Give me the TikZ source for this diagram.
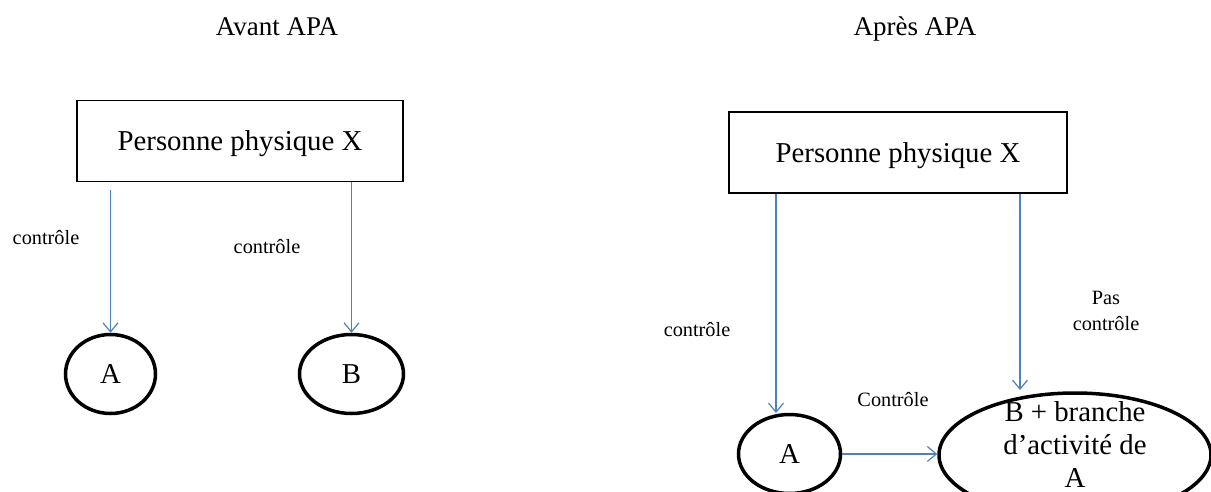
\documentclass[tikz,border=0pt]{standalone}
\usepackage{fontspec}
\setmainfont{Liberation Serif}
\usetikzlibrary{arrows.meta,shapes.geometric}
\definecolor{linkblue}{RGB}{79,129,189}

\begin{document}
\begin{tikzpicture}[x=1pt, y=-1pt, >={Straight Barb[length=9pt,width=15pt]},
    person/.style={draw, line width=1.5pt, inner sep=0pt, minimum height=81pt,
        text height=20pt, text depth=0pt, font=\fontsize{28.8}{33}\selectfont},
    firm/.style={ellipse, draw, line width=3.5pt, inner sep=0pt, minimum height=79pt,
        font=\fontsize{28.8}{33}\selectfont},
    ctrl/.style={->, draw=linkblue, line width=1.2pt},
    lbl/.style={font=\fontsize{20.3}{26}\selectfont, align=center},
    heading/.style={anchor=base, font=\fontsize{27}{30}\selectfont}]
    \useasboundingbox (0, 0) rectangle (1211, 492);
    \clip (0, 0) rectangle (1211, 492);
    \path
    (277, 36) node[heading] (before) {Avant APA}
    (915, 36) node[heading] (after) {Apr\`es APA};
    \path
    (240, 141) node[person, minimum width=326pt] (x1) {Personne physique X}
    (110.5, 374) node[firm, minimum width=90pt] (a1) {A}
    (351.5, 374) node[firm, minimum width=104pt] (b1) {B};
    \draw[ctrl, shorten <=8pt] (a1 |- x1.south) -- (a1.north);
    \draw[ctrl] (b1 |- x1.south) -- (b1.north);
    \path
    (46, 238) node[lbl] (c1) {contr\^ole}
    (267, 247) node[lbl] (c2) {contr\^ole};
    \path
    (898, 152.5) node[person, minimum width=338pt] (x2) {Personne physique X}
    (789.5, 454) node[firm, minimum width=102pt] (a2) {A}
    (1075, 455) node[firm, minimum width=272pt, minimum height=124pt] (b2) {}
    (1075, 445) node[font=\fontsize{28.8}{33}\selectfont, align=center] (b2t)
        {B + branche\\d’activité de\\A};
    \coordinate (a2top) at (776, 413);
    \coordinate (b2top) at (1020, 390);
    \draw[ctrl] (a2top |- x2.south) -- (a2top);
    \draw[ctrl] (b2top |- x2.south) -- (b2top);
    \draw[ctrl] (a2.east) -- (a2.east -| b2.west);
    \path
    (697, 330) node[lbl] (c3) {contr\^ole}
    (1106, 311) node[lbl] (c4) {Pas\\contr\^ole}
    (893, 400) node[lbl] (c5) {Contr\^ole};
\end{tikzpicture}
\end{document}
